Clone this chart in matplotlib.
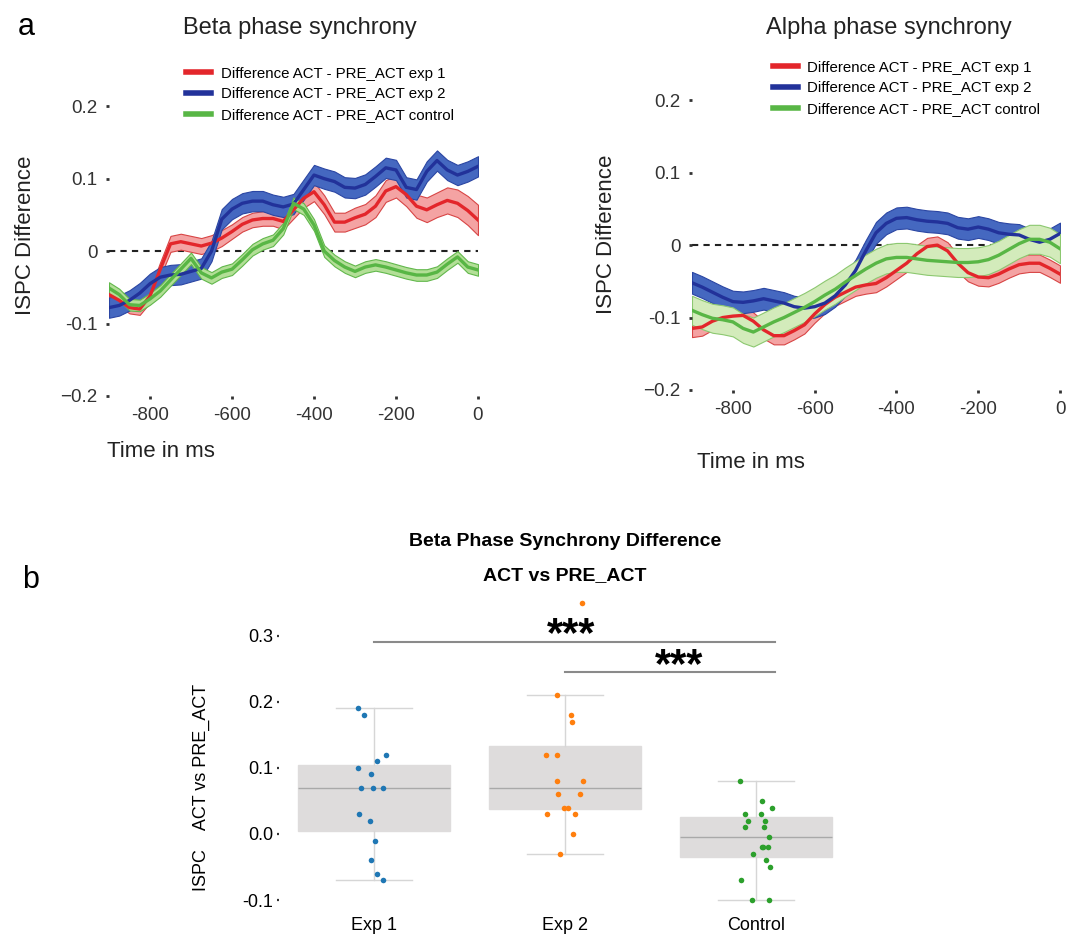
import numpy as np
import matplotlib.pyplot as plt

# ---- data ----
time_ms = np.arange(-900, 1, 25)

beta_exp1 = [-0.060, -0.068, -0.078, -0.080, -0.062, -0.025, 0.010, 0.013, 0.010, 0.007,
             0.011, 0.018, 0.027, 0.037, 0.043, 0.045, 0.045, 0.041, 0.057, 0.073,
             0.082, 0.064, 0.040, 0.040, 0.046, 0.051, 0.062, 0.083, 0.089, 0.078,
             0.062, 0.057, 0.064, 0.070, 0.066, 0.056, 0.043]
beta_exp2 = [-0.078, -0.075, -0.068, -0.058, -0.045, -0.036, -0.033, -0.032, -0.028, -0.024,
             0.000, 0.044, 0.058, 0.066, 0.069, 0.069, 0.064, 0.061, 0.065, 0.085,
             0.105, 0.100, 0.096, 0.088, 0.087, 0.092, 0.103, 0.115, 0.112, 0.088,
             0.085, 0.110, 0.125, 0.112, 0.105, 0.110, 0.117]
beta_ctrl = [-0.051, -0.060, -0.074, -0.075, -0.066, -0.055, -0.040, -0.025, -0.010, -0.030,
             -0.037, -0.029, -0.025, -0.012, 0.002, 0.010, 0.015, 0.031, 0.066, 0.058,
             0.036, 0.000, -0.013, -0.022, -0.028, -0.022, -0.019, -0.022, -0.026, -0.030,
             -0.033, -0.033, -0.029, -0.018, -0.008, -0.022, -0.026]

beta_sem_exp1 = [0.008, 0.008, 0.008, 0.008, 0.009, 0.010, 0.011, 0.011, 0.011, 0.011,
                 0.011, 0.011, 0.010, 0.010, 0.010, 0.010, 0.010, 0.011, 0.012, 0.013,
                 0.013, 0.013, 0.013, 0.013, 0.014, 0.014, 0.015, 0.015, 0.015, 0.016,
                 0.016, 0.017, 0.017, 0.018, 0.019, 0.020, 0.021]
beta_sem_exp2 = 0.014
beta_sem_ctrl = 0.008

alpha_exp1 = [-0.115, -0.113, -0.105, -0.100, -0.098, -0.097, -0.105, -0.117, -0.125, -0.125,
              -0.118, -0.110, -0.095, -0.082, -0.072, -0.065, -0.058, -0.055, -0.053, -0.045,
              -0.035, -0.025, -0.012, -0.002, 0.000, -0.008, -0.025, -0.038, -0.044, -0.045,
              -0.040, -0.033, -0.027, -0.025, -0.025, -0.032, -0.040]
alpha_exp2 = [-0.052, -0.058, -0.065, -0.072, -0.078, -0.079, -0.077, -0.074, -0.077, -0.080,
              -0.085, -0.087, -0.085, -0.080, -0.070, -0.055, -0.035, -0.008, 0.017, 0.030,
              0.037, 0.038, 0.035, 0.033, 0.032, 0.030, 0.024, 0.022, 0.025, 0.022,
              0.017, 0.015, 0.014, 0.008, 0.004, 0.008, 0.016]
alpha_ctrl = [-0.090, -0.096, -0.101, -0.103, -0.106, -0.115, -0.120, -0.113, -0.106, -0.100,
              -0.093, -0.086, -0.078, -0.069, -0.061, -0.051, -0.042, -0.033, -0.025, -0.019,
              -0.017, -0.017, -0.019, -0.021, -0.022, -0.023, -0.024, -0.024, -0.023, -0.020,
              -0.014, -0.006, 0.002, 0.008, 0.008, 0.004, -0.005]
alpha_sem_exp1 = 0.012
alpha_sem_exp2 = 0.015
alpha_sem_ctrl = 0.020

legend_labels = ["Difference ACT - PRE_ACT exp 1",
                 "Difference ACT - PRE_ACT exp 2",
                 "Difference ACT - PRE_ACT control"]

y_ticks = [-0.2, -0.1, 0, 0.1, 0.2]
y_ticklabels = ["\u22120.2", "-0.1", "0", "0.1", "0.2"]
x_ticks = [-800, -600, -400, -200, 0]

groups = ["Exp 1", "Exp 2", "Control"]
exp1_pts = [0.19, 0.18, 0.12, 0.11, 0.10, 0.09, 0.07, 0.07, 0.07, 0.03, 0.02, -0.01, -0.04, -0.06, -0.07]
exp2_pts = [0.35, 0.21, 0.18, 0.17, 0.12, 0.12, 0.08, 0.08, 0.06, 0.06, 0.04, 0.04, 0.03, 0.03, 0.0, -0.03]
ctrl_pts = [0.08, 0.05, 0.04, 0.03, 0.03, 0.02, 0.02, 0.01, 0.01, -0.005, -0.02, -0.02, -0.02,
            -0.03, -0.04, -0.05, -0.07, -0.10, -0.10]

# colours
RED = ("#e3262b", "#f4a3a3", "#d84545")
BLUE = ("#22329a", "#4568c0", "#2b46a3")
GREEN_BETA = ("#58b645", "#b3df97", "#62b84c")
GREEN_ALPHA = ("#58b645", "#d3ebbb", "#8cc870")
PT_COLORS = ["#1f77b4", "#ff7f0e", "#2ca02c"]

SANS = ["Liberation Sans", "DejaVu Sans"]
NARROW = ["Liberation Sans Narrow", "Liberation Sans", "DejaVu Sans"]
plt.rcParams["font.family"] = SANS


def draw_series(ax, mean, sem, colors, label):
    m = np.asarray(mean)
    s = np.asarray(sem)
    line_c, fill_c, edge_c = colors
    ax.fill_between(time_ms, m - s, m + s, facecolor=fill_c, edgecolor=edge_c, linewidth=0.8)
    ax.plot(time_ms, m, color=line_c, lw=2.4, label=label)


def style_timecourse(ax, legend_x, ylabel_xy, xlabel_xy):
    ax.axhline(0, color="#222222", ls=(0, (3, 2.5)), lw=1.5, zorder=0.5)
    ax.set_xlim(-900, 0)
    ax.set_ylim(-0.2, 0.25)
    ax.set_yticks(y_ticks)
    ax.set_yticklabels(y_ticklabels)
    ax.set_xticks(x_ticks)
    ax.set_xticklabels([str(t) for t in x_ticks])
    for sp in ax.spines.values():
        sp.set_visible(False)
    ax.tick_params(length=2.2, width=2, color="#333333", labelsize=13.5, pad=6, labelcolor="#333333")
    ax.set_ylabel("ISPC Difference", fontsize=16, color="#222222")
    ax.yaxis.set_label_coords(*ylabel_xy)
    ax.set_xlabel("Time in ms", fontsize=16, color="#222222", ha="left")
    ax.xaxis.set_label_coords(*xlabel_xy)
    leg = ax.legend(loc="upper left", bbox_to_anchor=(legend_x, 1.01), frameon=False,
                    fontsize=10.8, borderpad=0, borderaxespad=0, handlelength=1.65,
                    handletextpad=0.65, labelspacing=0.45)
    for h in leg.get_lines():
        h.set_linewidth(4)


fig = plt.figure(figsize=(10.69, 9.40), dpi=100)

# ---- panel a, beta ----
ax_b = fig.add_axes([109 / 1069, 1 - 396 / 940, 369 / 1069, 326 / 940])
draw_series(ax_b, beta_exp1, beta_sem_exp1, RED, legend_labels[0])
draw_series(ax_b, beta_exp2, beta_sem_exp2, BLUE, legend_labels[1])
draw_series(ax_b, beta_ctrl, beta_sem_ctrl, GREEN_BETA, legend_labels[2])
style_timecourse(ax_b, 0.21, (-0.198, 0.494), (-0.005, -0.138))

# ---- panel a, alpha ----
ax_a = fig.add_axes([692 / 1069, 1 - 390 / 940, 368 / 1069, 326 / 940])
draw_series(ax_a, alpha_exp1, alpha_sem_exp1, RED, legend_labels[0])
draw_series(ax_a, alpha_exp2, alpha_sem_exp2, BLUE, legend_labels[1])
draw_series(ax_a, alpha_ctrl, alpha_sem_ctrl, GREEN_ALPHA, legend_labels[2])
style_timecourse(ax_a, 0.22, (-0.204, 0.479), (0.014, -0.19))

fig.text(300 / 1069, 1 - 28 / 940, "Beta phase synchrony", fontsize=17, ha="center", va="center", color="#222222")
fig.text(889 / 1069, 1 - 28 / 940, "Alpha phase synchrony", fontsize=17, ha="center", va="center", color="#222222")
fig.text(18 / 1069, 1 - 27 / 940, "a", fontsize=22, ha="left", va="center")
fig.text(22 / 1069, 1 - 580 / 940, "b", fontsize=22, ha="left", va="center")

# ---- panel b, box plot ----
ax_box = fig.add_axes([278.5 / 1069, 1 - 910 / 940, 573 / 1069, 314 / 940])
data = [exp1_pts, exp2_pts, ctrl_pts]
ax_box.boxplot(data, positions=[0, 1, 2], widths=0.8, patch_artist=True, showfliers=False,
               capwidths=0.4,
               boxprops=dict(facecolor="#dedcdc", edgecolor="#dedcdc", linewidth=1),
               medianprops=dict(color="#a9a9a9", linewidth=1),
               whiskerprops=dict(color="#d6d6d6", linewidth=1),
               capprops=dict(color="#d6d6d6", linewidth=1))
rng = np.random.default_rng(3)
for i, pts in enumerate(data):
    jit = rng.uniform(-0.1, 0.1, len(pts))
    ax_box.scatter(i + jit, pts, s=16, color=PT_COLORS[i], zorder=3, linewidths=0)

ax_box.set_xlim(-0.5, 2.5)
ax_box.set_ylim(-0.115, 0.36)
ax_box.set_yticks([-0.1, 0.0, 0.1, 0.2, 0.3])
ax_box.set_yticklabels(["-0.1", "0.0", "0.1", "0.2", "0.3"], family=NARROW)
ax_box.set_xticks([0, 1, 2])
ax_box.set_xticklabels(groups, family=NARROW)
for sp in ax_box.spines.values():
    sp.set_visible(False)
ax_box.tick_params(axis="y", length=1.6, width=1.6, color="#333333", labelsize=13, pad=2)
ax_box.tick_params(axis="x", length=0, labelsize=13, pad=5)
ax_box.set_ylabel("ISPC    ACT vs PRE_ACT", fontsize=13)
ax_box.yaxis.set_label_coords(-0.12, 0.39)

# significance bars
ax_box.plot([0, 2.1], [0.29, 0.29], color="#8a8a8a", lw=1.5)
ax_box.plot([1, 2.1], [0.245, 0.245], color="#8a8a8a", lw=1.5)
ax_box.text(1.03, 0.285, "***", fontsize=30, fontweight="bold", ha="center", va="baseline")
ax_box.text(1.6, 0.237, "***", fontsize=30, fontweight="bold", ha="center", va="baseline")

fig.text(565 / 1069, 1 - 541 / 940, "Beta Phase Synchrony Difference", fontsize=14,
         fontweight="bold", ha="center", va="center", family=NARROW)
fig.text(565 / 1069, 1 - 576 / 940, "ACT vs PRE_ACT", fontsize=14,
         fontweight="bold", ha="center", va="center", family=NARROW)

fig.savefig("out.png", dpi=100)
